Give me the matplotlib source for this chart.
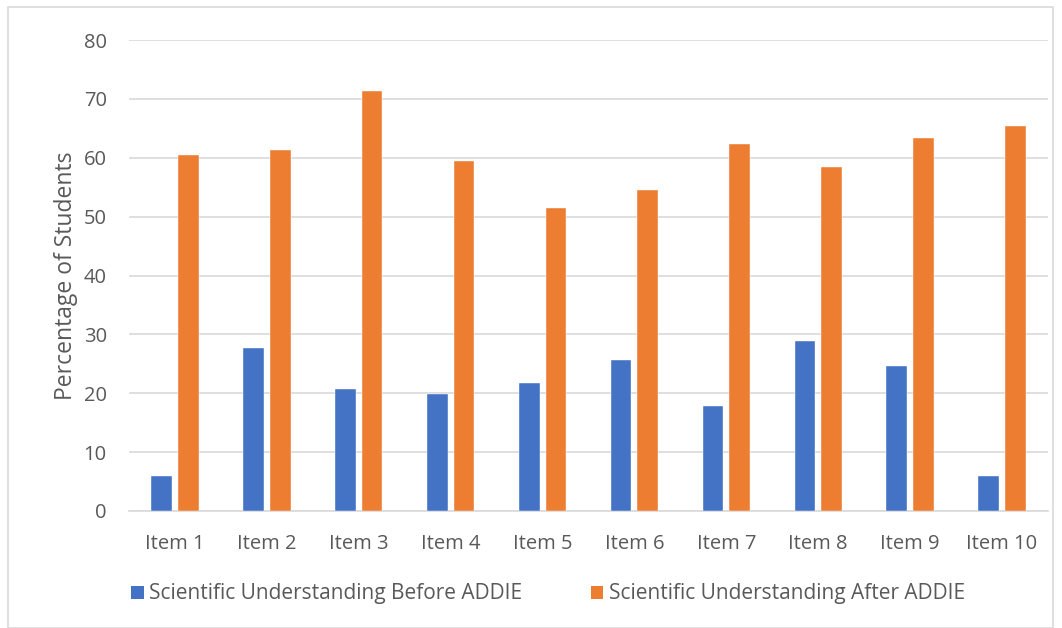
import matplotlib
matplotlib.use("Agg")
import matplotlib.pyplot as plt
import numpy as np
from matplotlib.patches import Rectangle, Patch

categories = ["Item 1", "Item 2", "Item 3", "Item 4", "Item 5",
              "Item 6", "Item 7", "Item 8", "Item 9", "Item 10"]
before = [5.9, 27.7, 20.8, 19.8, 21.8, 25.7, 17.8, 28.8, 24.7, 5.9]
after = [60.4, 61.4, 71.4, 59.4, 51.5, 54.5, 62.4, 58.4, 63.4, 65.4]
series_names = ["Scientific Understanding Before ADDIE",
                "Scientific Understanding After ADDIE"]
yticks = [0, 10, 20, 30, 40, 50, 60, 70, 80]

blue = "#4472C4"
orange = "#ED7D31"
text_color = "#595959"
grid_color = "#D9D9D9"

plt.rcParams['font.family'] = ['Open Sans', 'DejaVu Sans']

fig = plt.figure(figsize=(10.62, 6.28), dpi=100)
ax = fig.add_axes([129/1062, 1-511/628, (1048-129)/1062, (511-40)/628])

x = np.arange(len(categories))
w = 0.225
gap = 0.065
ax.bar(x - (w+gap)/2, before, width=w, color=blue, edgecolor='white', linewidth=0.3, zorder=3)
ax.bar(x + (w+gap)/2, after, width=w, color=orange, edgecolor='white', linewidth=0.3, zorder=3)

ax.set_xlim(-0.5, len(categories)-0.5)
ax.set_ylim(0, 80)
ax.set_yticks(yticks)
ax.set_xticks(x)
ax.set_xticklabels(categories)
ax.tick_params(axis='both', length=0, labelsize=14.5, colors=text_color)
ax.tick_params(axis='y', pad=16)
ax.tick_params(axis='x', pad=16.5)
ax.yaxis.grid(True, color=grid_color, linewidth=1.2, zorder=0)
for s in ['top', 'right', 'left']:
    ax.spines[s].set_visible(False)
ax.spines['bottom'].set_color(grid_color)
ax.spines['bottom'].set_linewidth(1.2)
ax.set_ylabel("Percentage of Students", fontsize=16.5, color=text_color, labelpad=4)

handles = [Patch(facecolor=blue, edgecolor='none'), Patch(facecolor=orange, edgecolor='none')]
fig.legend(handles, series_names, loc='center', bbox_to_anchor=(548/1062, 1-594/628),
           ncol=2, frameon=False, fontsize=15, labelcolor=text_color,
           handlelength=0.6, handleheight=0.6, handletextpad=0.25, columnspacing=3.3,
           borderpad=0)

fig.patches.append(Rectangle((8/1062, 0), (1053-8)/1062, 1-7/628, transform=fig.transFigure,
                             fill=False, edgecolor='#D9D9D9', linewidth=1.2))

fig.savefig("out.png", dpi=100)
